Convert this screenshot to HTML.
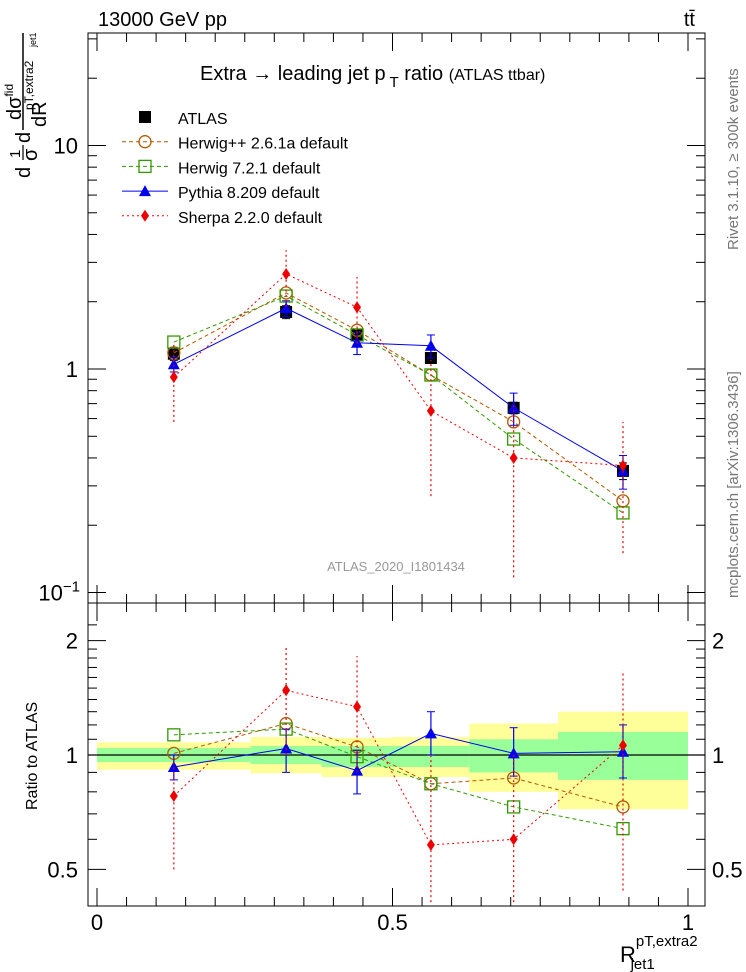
<!DOCTYPE html>
<html><head><meta charset="utf-8"><style>
body{margin:0;background:#fff}
svg{display:block;font-family:"Liberation Sans",sans-serif}
</style></head><body>
<svg id="c" width="746" height="972"></svg>
<script>
const categories=[0.13,0.32,0.44,0.565,0.705,0.89];
const binEdges=[0,0.26,0.38,0.5,0.63,0.78,1.0];
const atlasVals=[1.17,1.8,1.42,1.12,0.67,0.35];
const atlasErr=[0.08,0.12,0.08,0.06,0.04,0.03];
const herwigppVals=[1.18,2.19,1.49,0.94,0.58,0.257];
const herwig7Vals=[1.32,2.12,1.42,0.94,0.486,0.227];
const pythiaVals=[1.05,1.87,1.31,1.27,0.67,0.35];
const pythiaErr=[0.08,0.15,0.15,0.15,0.11,0.06];
const sherpaVals=[0.92,2.66,1.89,0.65,0.40,0.37];
const sherpaLo=[0.58,1.9,1.3,0.27,0.117,0.15];
const sherpaHi=[1.3,3.4,2.58,1.1,0.7,0.58];
const rHerwigpp=[1.01,1.21,1.05,0.84,0.87,0.73];
const rHerwig7=[1.13,1.17,0.99,0.84,0.73,0.64];
const rPythia=[0.93,1.04,0.91,1.14,1.01,1.02];
const rPythiaLo=[0.86,0.9,0.79,1.0,0.88,0.87];
const rPythiaHi=[1.0,1.17,1.03,1.3,1.18,1.2];
const rSherpa=[0.78,1.48,1.34,0.58,0.60,1.06];
const rSherpaLo=[0.5,1.0,0.9,0.38,0.38,0.44];
const rSherpaHi=[1.0,1.93,1.82,1.0,1.0,1.67];
const greenHi=[1.043,1.056,1.056,1.056,1.10,1.15];
const greenLo=[0.958,0.947,0.93,0.93,0.90,0.86];
const yellowHi=[1.08,1.115,1.11,1.115,1.21,1.30];
const yellowLo=[0.915,0.895,0.875,0.875,0.80,0.72];
const yTicksMain=["10","1"];

const S=document.getElementById('c');const NS='http://www.w3.org/2000/svg';
function el(t,a,p){const e=document.createElementNS(NS,t);for(const k in a)e.setAttribute(k,a[k]);(p||S).appendChild(e);return e;}
const X=v=>97+v*591;
const Ym=v=>369-223.5*Math.log10(v);
const Yr=v=>755-380*Math.log10(v);
const L=88,R=705,T=33,MB=603,RB=906;

for(let i=0;i<6;i++){
 const y=el('rect',{x:X(binEdges[i]),y:Yr(yellowHi[i]),width:X(binEdges[i+1])-X(binEdges[i]),height:Yr(yellowLo[i])-Yr(yellowHi[i]),fill:'#ffff99'});
 
 const g=el('rect',{x:X(binEdges[i]),y:Yr(greenHi[i]),width:X(binEdges[i+1])-X(binEdges[i]),height:Yr(greenLo[i])-Yr(greenHi[i]),fill:'#99ff99'});
 
}
el('line',{x1:L,x2:R,y1:Yr(1),y2:Yr(1),stroke:'#000','stroke-width':1.2});

el('rect',{x:L,y:T,width:R-L,height:MB-T,fill:'none',stroke:'#000','stroke-width':1});
el('rect',{x:L,y:MB,width:R-L,height:RB-MB,fill:'none',stroke:'#000','stroke-width':1});

for(let d=-1;d<=1;d++){for(let m=1;m<10;m++){const v=m*Math.pow(10,d);const y=Ym(v);if(y<T||y>MB)continue;const len=m==1?18:9;
 el('line',{x1:L,x2:L+len,y1:y,y2:y,stroke:'#000'});el('line',{x1:R,x2:R-len,y1:y,y2:y,stroke:'#000'});}}
el('text',{x:78,y:Ym(10)+8,'font-size':22,'text-anchor':'end'}).textContent=yTicksMain[0];
el('text',{x:78,y:Ym(1)+8,'font-size':22,'text-anchor':'end'}).textContent=yTicksMain[1];
const t01=el('text',{x:80,y:Ym(0.1)+8,'font-size':22,'text-anchor':'end'});t01.innerHTML='10<tspan dy="-9" font-size="15">−1</tspan>';
[0.5,0.6,0.7,0.8,0.9,1,1.1,1.2,1.3,1.4,1.5,1.6,1.7,1.8,1.9,2,2.2].forEach(v=>{const y=Yr(v);if(y<MB||y>RB)return;const len=(v==0.5||v==1||v==2)?18:9;
 el('line',{x1:L,x2:L+len,y1:y,y2:y,stroke:'#000'});el('line',{x1:R,x2:R-len,y1:y,y2:y,stroke:'#000'});});
[[2,'2'],[1,'1'],[0.5,'0.5']].forEach(([v,s])=>{el('text',{x:78,y:Yr(v)+8,'font-size':22,'text-anchor':'end'}).textContent=s;el('text',{x:712,y:Yr(v)+8,'font-size':22}).textContent=s;});
for(let i=0;i<=20;i++){const v=i*0.05;const x=X(v);if(x>R)continue;const len=i%10==0?18:9;
 el('line',{x1:x,x2:x,y1:MB,y2:MB-len,stroke:'#000'});el('line',{x1:x,x2:x,y1:T,y2:T+len,stroke:'#000'});
 el('line',{x1:x,x2:x,y1:RB,y2:RB-len,stroke:'#000'});el('line',{x1:x,x2:x,y1:MB,y2:MB+len,stroke:'#000'});}
[[0,'0'],[0.5,'0.5'],[1,'1']].forEach(([v,s])=>{el('text',{x:X(v),y:930,'font-size':22,'text-anchor':'middle'}).textContent=s;});

function series(vals,Y,color,dash,marker,name,lo,hi){
 const g=el('g',{});
 if(lo)for(let i=0;i<vals.length;i++){el('line',{x1:X(categories[i]),x2:X(categories[i]),y1:Y(lo[i]),y2:Y(hi[i]),stroke:color,'stroke-width':1.2,'stroke-dasharray':dash},g);
  if(!dash){el('line',{x1:X(categories[i])-4,x2:X(categories[i])+4,y1:Y(lo[i]),y2:Y(lo[i]),stroke:color},g);el('line',{x1:X(categories[i])-4,x2:X(categories[i])+4,y1:Y(hi[i]),y2:Y(hi[i]),stroke:color},g);}}
 if(color!='#000')el('polyline',{points:vals.map((v,i)=>X(categories[i])+','+Y(v)).join(' '),fill:'none',stroke:color,'stroke-width':1,'stroke-dasharray':dash},g);
 vals.forEach((v,i)=>drawMarker(marker,X(categories[i]),Y(v),color,g));
}
function drawMarker(m,x,y,c,g){
 if(m=='sq')el('rect',{x:x-6,y:y-6,width:12,height:12,fill:'#000'},g);
 if(m=='circ')el('circle',{cx:x,cy:y,r:6,fill:'none',stroke:c,'stroke-width':1.3},g);
 if(m=='osq')el('rect',{x:x-6,y:y-6,width:12,height:12,fill:'none',stroke:c,'stroke-width':1.3},g);
 if(m=='tri')el('polygon',{points:`${x},${y-6} ${x-6},${y+5} ${x+6},${y+5}`,fill:c},g);
 if(m=='dia')el('polygon',{points:`${x},${y-6} ${x-4},${y} ${x},${y+6} ${x+4},${y}`,fill:c},g);
}
const aLo=atlasVals.map((v,i)=>v-atlasErr[i]),aHi=atlasVals.map((v,i)=>v+atlasErr[i]);
series(atlasVals,Ym,'#000','','sq','atlas-data',aLo,aHi);
series(herwigppVals,Ym,'#b35900','4,3','circ','herwigpp-series');
series(herwig7Vals,Ym,'#339900','4,3','osq','herwig7-series');
series(pythiaVals,Ym,'#0000ee','','tri','pythia-series',pythiaVals.map((v,i)=>v-pythiaErr[i]),pythiaVals.map((v,i)=>v+pythiaErr[i]));
series(sherpaVals,Ym,'#ee0000','2,3','dia','sherpa-series',sherpaLo,sherpaHi);
series(rHerwigpp,Yr,'#b35900','4,3','circ','herwigpp-ratio');
series(rHerwig7,Yr,'#339900','4,3','osq','herwig7-ratio');
series(rPythia,Yr,'#0000ee','','tri','pythia-ratio',rPythiaLo,rPythiaHi);
series(rSherpa,Yr,'#ee0000','2,3','dia','sherpa-ratio',rSherpaLo.map(v=>Math.max(v,0.41)),rSherpaHi);

const leg=[['ATLAS','#000','','sq'],['Herwig++ 2.6.1a default','#b35900','4,3','circ'],['Herwig 7.2.1 default','#339900','4,3','osq'],['Pythia 8.209 default','#0000ee','','tri'],['Sherpa 2.2.0 default','#ee0000','2,3','dia']];
leg.forEach((l,i)=>{const y=117+i*24.7;const g=el('g',{});
 if(i>0)el('line',{x1:122,x2:168,y1:y,y2:y,stroke:l[1],'stroke-dasharray':l[2]},g);
 drawMarker(l[3],145,y,l[1],g);el('text',{x:178,y:y+7,'font-size':16},g).textContent=l[0];});

const tt=el('text',{x:98,y:26,'font-size':20});tt.textContent='13000 GeV pp';
const tb=el('text',{x:695,y:26,'font-size':20,'text-anchor':'end'});tb.textContent='tt̄';
const ti=el('text',{x:200,y:80,'font-size':20});ti.innerHTML='Extra → leading jet p<tspan dy="7" font-size="15"> T</tspan><tspan dy="-7"> ratio </tspan><tspan font-size="16">(ATLAS ttbar)</tspan>';
const wm=el('text',{x:396,y:571,'font-size':13,fill:'#999','text-anchor':'middle'});wm.textContent='ATLAS_2020_I1801434';
const r1=el('text',{x:0,y:0,'font-size':15,fill:'#777',transform:'translate(738,250) rotate(-90)'});r1.textContent='Rivet 3.1.10, ≥ 300k events';
const r2=el('text',{x:0,y:0,'font-size':15,fill:'#777',transform:'translate(738,598) rotate(-90)'});r2.textContent='mcplots.cern.ch [arXiv:1306.3436]';
const rl=el('text',{x:0,y:0,'font-size':16,transform:'translate(37,810) rotate(-90)'});rl.textContent='Ratio to ATLAS';
const yg=el('g',{});
el('line',{x1:23,x2:23,y1:33,y2:130,stroke:'#000','stroke-width':1.5},yg);
el('line',{x1:23,x2:23,y1:145,y2:160,stroke:'#000','stroke-width':1.2},yg);
const yl1=el('text',{x:0,y:0,'font-size':20,transform:'translate(30,178) rotate(-90)'},yg);yl1.textContent='d';
const yl2=el('text',{x:0,y:0,'font-size':15,transform:'translate(20,158) rotate(-90)'},yg);yl2.textContent='1';
const yl3=el('text',{x:0,y:0,'font-size':20,transform:'translate(37,161) rotate(-90)'},yg);yl3.textContent='σ';
const yl4=el('text',{x:0,y:0,'font-size':20,transform:'translate(30,143) rotate(-90)'},yg);yl4.textContent='d';
const yn=el('text',{x:0,y:0,'font-size':20,transform:'translate(21,120) rotate(-90)'},yg);yn.innerHTML='dσ<tspan font-size="12" dy="-8">fid</tspan>';
const ys=el('text',{x:0,y:0,'font-size':12,transform:'translate(33,110) rotate(-90)'},yg);ys.textContent='pT,extra2';
const yd=el('text',{x:0,y:0,'font-size':20,transform:'translate(46,127) rotate(-90)'},yg);yd.textContent='dR';
const yj=el('text',{x:0,y:0,'font-size':9,transform:'translate(36,47) rotate(-90)'},yg);yj.textContent='jet1';
const xt=el('text',{x:620,y:962,'font-size':22});xt.innerHTML='R<tspan font-size="15" dy="-16">pT,extra2</tspan><tspan font-size="15" dx="-67" dy="23">jet1</tspan>';
</script>
</body></html>
